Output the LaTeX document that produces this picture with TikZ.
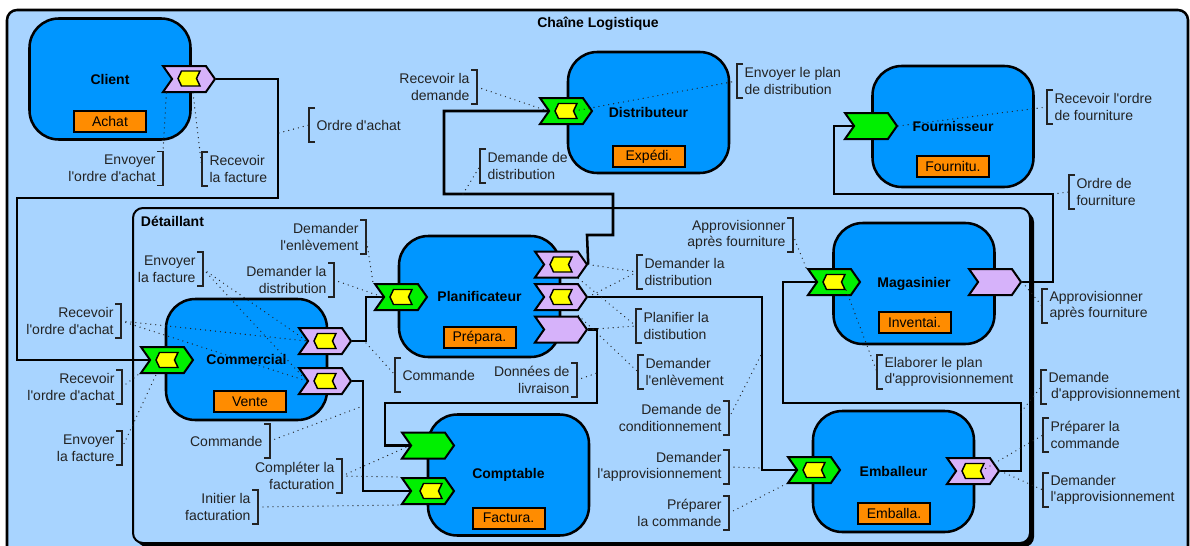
\documentclass[tikz,border=0pt]{standalone}
\usepackage{fontspec}
\setmainfont{Liberation Sans}[Ligatures=TeXOff]
\usetikzlibrary{shapes.symbols}

\newcommand{\notesize}{\fontsize{10.5}{12.4}\selectfont}
\definecolor{skyBg}{RGB}{168,212,255}
\definecolor{roleBlue}{RGB}{0,150,255}
\definecolor{taskOrange}{RGB}{255,140,0}
\definecolor{portGreen}{RGB}{0,240,0}
\definecolor{portLilac}{RGB}{214,178,250}
\definecolor{tokYellow}{RGB}{255,255,0}
\definecolor{noteGray}{RGB}{35,35,35}

\tikzset{every picture/.style={line width=0.75pt}}
\tikzset{
  role/.style={draw, line width=1.9pt, fill=roleBlue, rounded corners=22pt, minimum width=120.75pt, minimum height=90.75pt, inner sep=0pt, font=\notesize\bfseries},
  task/.style={draw, line width=1.5pt, fill=taskOrange, minimum width=54pt, minimum height=15.75pt, inner sep=0pt, font=\notesize},
  portIn/.style={signal, signal to=east, signal from=west, signal pointer angle=110, draw, line width=1.5pt, fill=portGreen, minimum width=39pt, minimum height=19.5pt, inner sep=0pt},
  portOut/.style={portIn, fill=portLilac},
  tok/.style={signal, signal to=west, signal from=east, signal pointer angle=130, draw, line width=1.1pt, fill=tokYellow, minimum width=16.5pt, minimum height=11.25pt, inner sep=0pt},
  note/.style={font=\notesize, text=noteGray, inner xsep=5.25pt, inner ysep=0pt, minimum height=24.75pt},
  noteL/.style={note, anchor=west, align=left},
  noteR/.style={note, anchor=east, align=right},
  brk/.style={line width=0.8pt, draw=noteGray},
  lead/.style={line width=1pt, dash pattern=on 0pt off 3.75pt, line cap=round, draw=noteGray},
  wire/.style={line width=1.9pt}
}

\begin{document}
\begin{tikzpicture}[x=0.75pt,y=0.75pt,yscale=-1,xscale=1]
\useasboundingbox (0,0) rectangle (1190,546);
\clip (0,0) rectangle (1190,546);

% Frames
\draw [line width=1.9pt, rounded corners=7.5pt, fill=skyBg] (7,10) rectangle (1188,580);
\node [font=\notesize\bfseries] (ttl) at (598,24) {Chaîne Logistique};
\fill [black, rounded corners=7.5pt] (137,212) rectangle (1034,547);
\draw [line width=1.5pt, rounded corners=7.5pt, fill=skyBg] (133,208) rectangle (1030,543);
\node [font=\notesize\bfseries, anchor=west] (dtl) at (136,221) {Détaillant};

% Roles
\node [role] (cl) at (110,79) {Client};
\node [role] (ds) at (648.5,112.5) {Distributeur};
\node [role] (fn) at (953,126.5) {Fournisseur};
\node [role] (co) at (246.5,359.5) {Commercial};
\node [role] (pl) at (479.5,296.5) {Planificateur};
\node [role] (mg) at (914,283.5) {Magasinier};
\node [role] (cp) at (508.5,475) {Comptable};
\node [role] (eb) at (893.5,471.5) {Emballeur};

% Tasks
\node [task] (clT) at (110,121) {Achat};
\node [task] (dsT) at (649,156.5) {Expédi.};
\node [task] (fnT) at (953,166) {Fournitu.};
\node [task] (coT) at (250,401.5) {Vente};
\node [task] (plT) at (479.5,337.5) {Prépara.};
\node [task] (mgT) at (914.5,322.5) {Inventai.};
\node [task] (cpT) at (508.5,518) {Factura.};
\node [task] (ebT) at (894,513.5) {Emballa.};

% Ports
\node [portOut] (clP) at (189,79) {};
\node [tok] (clY) at (189,78.5) {};
\node [portIn] (dsP) at (566,111) {};
\node [tok] (dsY) at (566,111) {};
\node [portIn] (fnP) at (871,126) {};
\node [portIn] (coI) at (167,360) {};
\node [tok] (coIY) at (167,360) {};
\node [portOut] (coO1) at (325,341) {};
\node [tok] (coY1) at (325,341) {};
\node [portOut] (coO2) at (325,381) {};
\node [tok] (coY2) at (325,381) {};
\node [portIn] (plI) at (401,297) {};
\node [tok] (plIY) at (401,297) {};
\node [portOut] (plO1) at (561,264.5) {};
\node [tok] (plY1) at (561,264.5) {};
\node [portOut] (plO2) at (561,297) {};
\node [tok] (plY2) at (561,297) {};
\node [portOut] (plO3) at (561,329.5) {};
\node [portIn] (mgI) at (834,282) {};
\node [tok] (mgY) at (834,282) {};
\node [portOut] (mgO) at (995,282) {};
\node [portIn] (cpI1) at (428,445.5) {};
\node [portIn] (cpI2) at (428,491) {};
\node [tok] (cpY) at (431,491) {};
\node [portIn] (ebI) at (814,470) {};
\node [tok] (ebIY) at (814,470) {};
\node [portOut] (ebO) at (973,471) {};
\node [tok] (ebY) at (973,471) {};

% Wires
\draw [wire] (clP.east) -- (278,79) -- (278,198) -- (17,198) |- (coI.west);
\draw [wire] (plO1.east) -- (587,235) -- (613,235) -- (613,194) -- (444,194) |- (dsP.west);
\draw [wire] (plO2.east) -- (762,297) |- (ebI.west);
\draw [wire] (plO3.east) -- (597,329.5) -- (597,403) -- (385,403) |- (cpI1.west);
\draw [wire] (coO1.east) -- (366,341) |- (plI.west);
\draw [wire] (coO2.east) -- (363,381) |- (cpI2.west);
\draw [wire] (mgI.west) -- (783,282) -- (783,403) -- (1021,403) |- (ebO.east);
\draw [wire] (mgO.east) -- (1053,282) -- (1053,194) -- (834,194) |- (fnP.west);

\coordinate (w1) at (279,133);
\coordinate (w2) at (463,194);
\coordinate (w3) at (1053,194);
\coordinate (w4) at (366,343);
\coordinate (w5) at (597,373);
\coordinate (w6) at (1021,412);
\coordinate (w7) at (762,353);
\coordinate (w8) at (762,468);
\coordinate (w9) at (363,406);

% Notes
\node [noteR] (n01) at (163,168.5) {Envoyer\\l'ordre d'achat};
\draw [brk] ([xshift=-4.5pt]n01.north east) -| (n01.south east) -- ++(-6,0);
\draw [lead] ([xshift=4pt]clP.south west) -- (n01.north east);

\node [noteL] (n02) at (202,169) {Recevoir\\la facture};
\draw [brk] ([xshift=4.5pt]n02.north west) -| (n02.south west) -- ++(6,0);
\draw [lead] ([xshift=3pt]clP.south) -- (n02.west);

\node [noteL] (n03) at (309,125) {Ordre d'achat};
\draw [brk] ([xshift=4.5pt]n03.north west) -| (n03.south west) -- ++(6,0);
\draw [lead] (w1) -- (n03.west);

\node [noteR] (n04) at (477,87) {Recevoir la\\demande};
\draw [brk] ([xshift=-4.5pt]n04.north east) -| (n04.south east) -- ++(-6,0);
\draw [lead] (n04.east) -- (dsP.west);

\node [noteL] (n05) at (737,81) {Envoyer le plan\\de distribution};
\draw [brk] ([xshift=4.5pt]n05.north west) -| (n05.south west) -- ++(6,0);
\draw [lead] (dsY.east) -- (n05.west);

\node [noteL] (n06) at (480,166) {Demande de\\distribution};
\draw [brk] ([xshift=4.5pt]n06.north west) -| (n06.south west) -- ++(6,0);
\draw [lead] (w2) -- (n06.west);

\node [noteL] (n07) at (1047,107) {Recevoir l'ordre\\de fourniture};
\draw [brk] ([xshift=4.5pt]n07.north west) -| (n07.south west) -- ++(6,0);
\draw [lead] (fnP.east) -- (n07.west);

\node [noteL] (n08) at (1069,192) {Ordre de\\fourniture};
\draw [brk] ([xshift=4.5pt]n08.north west) -| (n08.south west) -- ++(6,0);
\draw [lead] (w3) -- (n08.west);

\node [noteR] (n09) at (366,237) {Demander\\l'enlèvement};
\draw [brk] ([xshift=-4.5pt]n09.north east) -| (n09.south east) -- ++(-6,0);
\draw [lead] (n09.east) -- (plI.north west);

\node [noteR] (n10) at (334,280) {Demander la\\distribution};
\draw [brk] ([xshift=-4.5pt]n10.north east) -| (n10.south east) -- ++(-6,0);
\draw [lead] (n10.east) -- (plI.west);

\node [noteR] (n11) at (203,269) {Envoyer\\la facture};
\draw [brk] ([xshift=-4.5pt]n11.north east) -| (n11.south east) -- ++(-6,0);
\draw [lead] (n11.east) -- (coO1.west);
\draw [lead] (n11.east) -- (coO2.west);

\node [noteR] (n12) at (121,321) {Recevoir\\l'ordre d'achat};
\draw [brk] ([xshift=-4.5pt]n12.north east) -| (n12.south east) -- ++(-6,0);
\draw [lead] (n12.east) -- (coO1.west);
\draw [lead] (n12.east) -- (coO2.west);

\node [noteR] (n13) at (122,387) {Recevoir\\l'ordre d'achat};
\draw [brk] ([xshift=-4.5pt]n13.north east) -| (n13.south east) -- ++(-6,0);
\draw [lead] (n13.east) -- (coI.south west);

\node [noteR] (n14) at (122,448) {Envoyer\\la facture};
\draw [brk] ([xshift=-4.5pt]n14.north east) -| (n14.south east) -- ++(-6,0);
\draw [lead] (n14.east) -- ([xshift=-8pt]coI.south);

\node [noteL] (n15) at (637,272) {Demander la\\distribution};
\draw [brk] ([xshift=4.5pt]n15.north west) -| (n15.south west) -- ++(6,0);
\draw [lead] (plO1.east) -- (n15.west);
\draw [lead] (plO2.east) -- (n15.west);

\node [noteL] (n16) at (636,326) {Planifier la\\distibution};
\draw [brk] ([xshift=4.5pt]n16.north west) -| (n16.south west) -- ++(6,0);
\draw [lead] (plO1.south east) -- (n16.west);
\draw [lead] (plO3.east) -- (n16.west);

\node [noteL] (n17) at (638,372) {Demander\\l'enlèvement};
\draw [brk] ([xshift=4.5pt]n17.north west) -| (n17.south west) -- ++(6,0);
\draw [lead] (plO3.north east) -- (n17.west);

\node [noteL] (n18) at (395,375) {Commande};
\draw [brk] ([xshift=4.5pt]n18.north west) -| (n18.south west) -- ++(6,0);
\draw [lead] (w4) -- (n18.west);

\node [noteR] (n19) at (577,380) {Données de\\livraison};
\draw [brk] ([xshift=-4.5pt]n19.north east) -| (n19.south east) -- ++(-6,0);
\draw [lead] (n19.east) -- (w5);

\node [noteR] (n20) at (793,235) {Approvisionner\\après fourniture};
\draw [brk] ([xshift=-4.5pt]n20.north east) -| (n20.south east) -- ++(-6,0);
\draw [lead] (n20.east) -- (mgI.north west);

\node [noteL] (n21) at (877,372) {Elaborer le plan\\d'approvisionnement};
\draw [brk] ([xshift=4.5pt]n21.north west) -| (n21.south west) -- ++(6,0);
\draw [lead] (mgY.south east) -- (n21.west);

\node [noteL] (n22) at (1042,306) {Approvisionner\\après fourniture};
\draw [brk] ([xshift=4.5pt]n22.north west) -| (n22.south west) -- ++(6,0);
\draw [lead] (mgO.east) -- (n22.west);

\node [noteL] (n23) at (1041,387) {Demande\\\hspace{2pt}d'approvisionnement};
\draw [brk] ([xshift=4.5pt]n23.north west) -| (n23.south west) -- ++(6,0);
\draw [lead] (w6) -- (n23.west);

\node [noteL] (n24) at (1043,435) {Préparer la\\commande};
\draw [brk] ([xshift=4.5pt]n24.north west) -| (n24.south west) -- ++(6,0);
\draw [lead] (ebY.east) -- (n24.west);

\node [noteL] (n25) at (1043,490) {Demander\\l'approvisionnement};
\draw [brk] ([xshift=4.5pt]n25.north west) -| (n25.south west) -- ++(6,0);
\draw [lead] (ebO.east) -- (n25.west);

\node [noteR] (n26) at (729,418) {Demande de\\conditionnement};
\draw [brk] ([xshift=-4.5pt]n26.north east) -| (n26.south east) -- ++(-6,0);
\draw [lead] (n26.east) -- (w7);

\node [noteR] (n27) at (729,467) {Demander\\l'approvisionnement};
\draw [brk] ([xshift=-4.5pt]n27.north east) -| (n27.south east) -- ++(-6,0);
\draw [lead] (n27.east) -- (w8);

\node [noteR] (n28) at (729,513) {Préparer\\la commande};
\draw [brk] ([xshift=-4.5pt]n28.north east) -| (n28.south east) -- ++(-6,0);
\draw [lead] (n28.east) -- (ebI.south west);

\node [noteR] (n29) at (270,441) {Commande};
\draw [brk] ([xshift=-4.5pt]n29.north east) -| (n29.south east) -- ++(-6,0);
\draw [lead] (n29.east) -- (w9);

\node [noteR] (n30) at (342,476) {Compléter la\\facturation};
\draw [brk] ([xshift=-4.5pt]n30.north east) -| (n30.south east) -- ++(-6,0);
\draw [lead] (n30.east) -- (cpI1.west);
\draw [lead] (n30.east) -- (cpI2.north west);

\node [noteR] (n31) at (258,507) {Initier la\\facturation};
\draw [brk] ([xshift=-4.5pt]n31.north east) -| (n31.south east) -- ++(-6,0);
\draw [lead] (n31.east) -- (cpI2.south west);

\end{tikzpicture}
\end{document}
